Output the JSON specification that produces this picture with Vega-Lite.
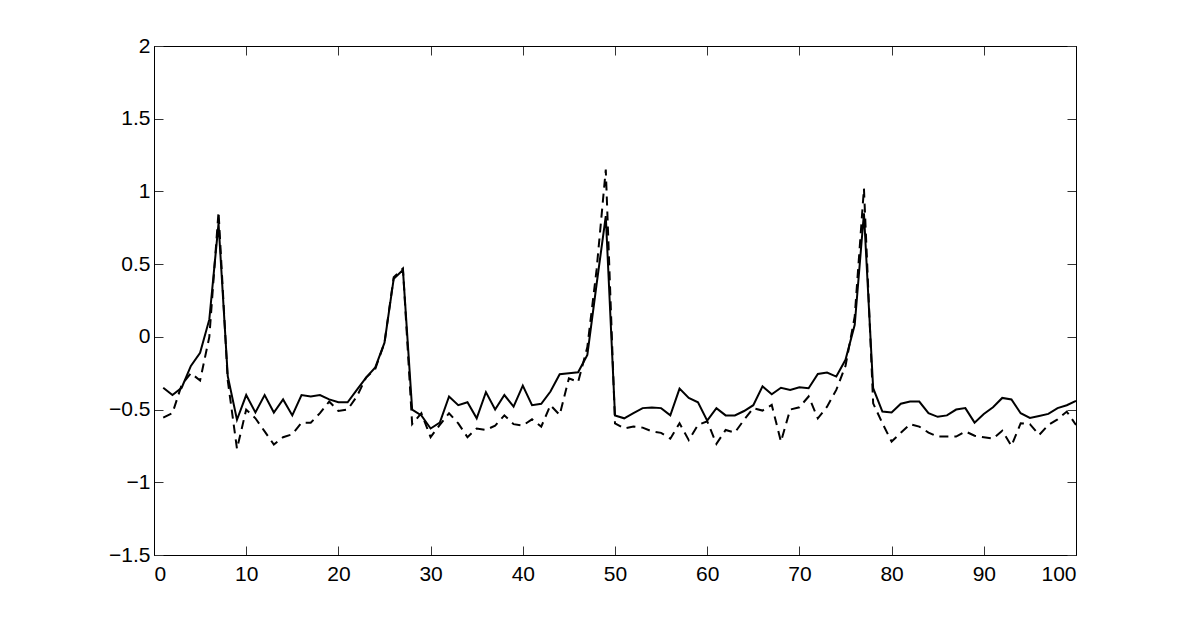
{
  "$schema": "https://vega.github.io/schema/vega-lite/v6.json",
  "autosize": {"type": "none"},
  "padding": {"left": 154, "top": 46, "right": 113, "bottom": 70},
  "width": 922,
  "height": 509,
  "background": "white",
  "config": {
    "view": {"stroke": "black", "strokeWidth": 1},
    "axis": {
      "grid": false,
      "domainColor": "black",
      "domainWidth": 1,
      "tickColor": "#333",
      "tickWidth": 1,
      "tickSize": -9,
      "labelFont": "Liberation Sans",
      "labelFontSize": 21,
      "labelColor": "black",
      "title": null
    }
  },
  "data": {
    "values": [
      {"x": 1, "solid": -0.35, "dashed": -0.555},
      {"x": 2, "solid": -0.40, "dashed": -0.525},
      {"x": 3, "solid": -0.35, "dashed": -0.33},
      {"x": 4, "solid": -0.20, "dashed": -0.25},
      {"x": 5, "solid": -0.11, "dashed": -0.30},
      {"x": 6, "solid": 0.12, "dashed": 0.0},
      {"x": 7, "solid": 0.78, "dashed": 0.86},
      {"x": 8, "solid": -0.27, "dashed": -0.30},
      {"x": 9, "solid": -0.57, "dashed": -0.77},
      {"x": 10, "solid": -0.40, "dashed": -0.50},
      {"x": 11, "solid": -0.52, "dashed": -0.56},
      {"x": 12, "solid": -0.40, "dashed": -0.65},
      {"x": 13, "solid": -0.52, "dashed": -0.74},
      {"x": 14, "solid": -0.43, "dashed": -0.69},
      {"x": 15, "solid": -0.54, "dashed": -0.67},
      {"x": 16, "solid": -0.40, "dashed": -0.59},
      {"x": 17, "solid": -0.41, "dashed": -0.59},
      {"x": 18, "solid": -0.40, "dashed": -0.525},
      {"x": 19, "solid": -0.43, "dashed": -0.445},
      {"x": 20, "solid": -0.45, "dashed": -0.51},
      {"x": 21, "solid": -0.45, "dashed": -0.50},
      {"x": 22, "solid": -0.365, "dashed": -0.41},
      {"x": 23, "solid": -0.28, "dashed": -0.28},
      {"x": 24, "solid": -0.21, "dashed": -0.22},
      {"x": 25, "solid": -0.04, "dashed": -0.04},
      {"x": 26, "solid": 0.40, "dashed": 0.41},
      {"x": 27, "solid": 0.46, "dashed": 0.47},
      {"x": 28, "solid": -0.50, "dashed": -0.60},
      {"x": 29, "solid": -0.54, "dashed": -0.525},
      {"x": 30, "solid": -0.63, "dashed": -0.69},
      {"x": 31, "solid": -0.59, "dashed": -0.605},
      {"x": 32, "solid": -0.41, "dashed": -0.525},
      {"x": 33, "solid": -0.47, "dashed": -0.595},
      {"x": 34, "solid": -0.45, "dashed": -0.69},
      {"x": 35, "solid": -0.56, "dashed": -0.63},
      {"x": 36, "solid": -0.38, "dashed": -0.64},
      {"x": 37, "solid": -0.50, "dashed": -0.61},
      {"x": 38, "solid": -0.40, "dashed": -0.54},
      {"x": 39, "solid": -0.48, "dashed": -0.60},
      {"x": 40, "solid": -0.335, "dashed": -0.61},
      {"x": 41, "solid": -0.47, "dashed": -0.567},
      {"x": 42, "solid": -0.46, "dashed": -0.617},
      {"x": 43, "solid": -0.376, "dashed": -0.47},
      {"x": 44, "solid": -0.257, "dashed": -0.537},
      {"x": 45, "solid": -0.25, "dashed": -0.285},
      {"x": 46, "solid": -0.243, "dashed": -0.31},
      {"x": 47, "solid": -0.124, "dashed": -0.07},
      {"x": 48, "solid": 0.36, "dashed": 0.46},
      {"x": 49, "solid": 0.83, "dashed": 1.15},
      {"x": 50, "solid": -0.54, "dashed": -0.595},
      {"x": 51, "solid": -0.56, "dashed": -0.63},
      {"x": 52, "solid": -0.525, "dashed": -0.617},
      {"x": 53, "solid": -0.49, "dashed": -0.624},
      {"x": 54, "solid": -0.486, "dashed": -0.65},
      {"x": 55, "solid": -0.49, "dashed": -0.66},
      {"x": 56, "solid": -0.54, "dashed": -0.70},
      {"x": 57, "solid": -0.356, "dashed": -0.594},
      {"x": 58, "solid": -0.42, "dashed": -0.71},
      {"x": 59, "solid": -0.45, "dashed": -0.606},
      {"x": 60, "solid": -0.576, "dashed": -0.58},
      {"x": 61, "solid": -0.49, "dashed": -0.736},
      {"x": 62, "solid": -0.54, "dashed": -0.64},
      {"x": 63, "solid": -0.54, "dashed": -0.658},
      {"x": 64, "solid": -0.51, "dashed": -0.57},
      {"x": 65, "solid": -0.47, "dashed": -0.49},
      {"x": 66, "solid": -0.34, "dashed": -0.507},
      {"x": 67, "solid": -0.395, "dashed": -0.468},
      {"x": 68, "solid": -0.35, "dashed": -0.72},
      {"x": 69, "solid": -0.365, "dashed": -0.50},
      {"x": 70, "solid": -0.346, "dashed": -0.484},
      {"x": 71, "solid": -0.353, "dashed": -0.41},
      {"x": 72, "solid": -0.255, "dashed": -0.56},
      {"x": 73, "solid": -0.245, "dashed": -0.48},
      {"x": 74, "solid": -0.273, "dashed": -0.365},
      {"x": 75, "solid": -0.158, "dashed": -0.20},
      {"x": 76, "solid": 0.083, "dashed": 0.14},
      {"x": 77, "solid": 0.85, "dashed": 1.02},
      {"x": 78, "solid": -0.353, "dashed": -0.457},
      {"x": 79, "solid": -0.514, "dashed": -0.594},
      {"x": 80, "solid": -0.52, "dashed": -0.72},
      {"x": 81, "solid": -0.46, "dashed": -0.66},
      {"x": 82, "solid": -0.445, "dashed": -0.60},
      {"x": 83, "solid": -0.445, "dashed": -0.617},
      {"x": 84, "solid": -0.525, "dashed": -0.658},
      {"x": 85, "solid": -0.55, "dashed": -0.686},
      {"x": 86, "solid": -0.54, "dashed": -0.686},
      {"x": 87, "solid": -0.50, "dashed": -0.686},
      {"x": 88, "solid": -0.49, "dashed": -0.65},
      {"x": 89, "solid": -0.59, "dashed": -0.68},
      {"x": 90, "solid": -0.53, "dashed": -0.69},
      {"x": 91, "solid": -0.484, "dashed": -0.70},
      {"x": 92, "solid": -0.42, "dashed": -0.645},
      {"x": 93, "solid": -0.43, "dashed": -0.75},
      {"x": 94, "solid": -0.525, "dashed": -0.594},
      {"x": 95, "solid": -0.557, "dashed": -0.60},
      {"x": 96, "solid": -0.544, "dashed": -0.675},
      {"x": 97, "solid": -0.53, "dashed": -0.606},
      {"x": 98, "solid": -0.49, "dashed": -0.567},
      {"x": 99, "solid": -0.47, "dashed": -0.514},
      {"x": 100, "solid": -0.44, "dashed": -0.606}
    ]
  },
  "layer": [
    {
      "mark": {"type": "line", "color": "black", "strokeWidth": 2, "strokeDash": [9, 6]},
      "encoding": {
        "x": {"field": "x", "type": "quantitative", "scale": {"domain": [0, 100], "nice": false},
              "axis": {"orient": "top", "labels": false, "values": [0,10,20,30,40,50,60,70,80,90,100]}},
        "y": {"field": "dashed", "type": "quantitative", "scale": {"domain": [-1.5, 2], "nice": false, "zero": false},
              "axis": {"orient": "right", "labels": false, "values": [-1.5,-1,-0.5,0,0.5,1,1.5,2]}}
      }
    },
    {
      "mark": {"type": "line", "color": "black", "strokeWidth": 2},
      "encoding": {
        "x": {"field": "x", "type": "quantitative",
              "axis": {"orient": "bottom", "values": [0,10,20,30,40,50,60,70,80,90,100], "labelPadding": 17, "format": "~r", "labelFontSize": 21, "labelFont": "Liberation Sans"}},
        "y": {"field": "solid", "type": "quantitative",
              "axis": {"orient": "left", "values": [-1.5,-1,-0.5,0,0.5,1,1.5,2], "labelPadding": 13, "format": "~r", "labelFontSize": 21, "labelFont": "Liberation Sans"}}
      }
    }
  ],
  "resolve": {"axis": {"x": "independent", "y": "independent"}}
}
